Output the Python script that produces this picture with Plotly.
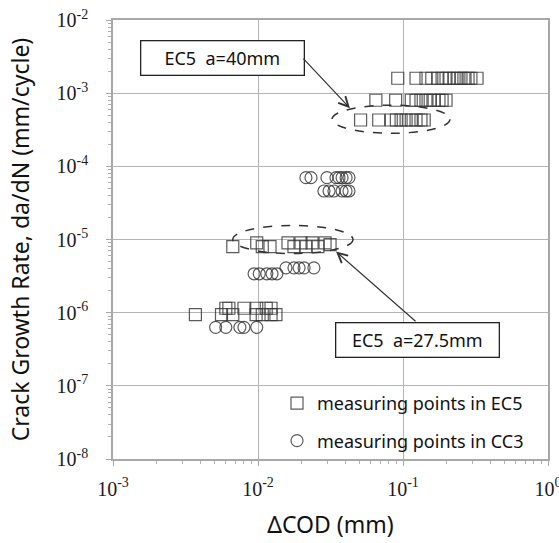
import plotly.graph_objects as go

# Crack growth rate vs. COD range for the EC5 and CC3 specimens
ec5_dcod = [
    # a = 40 mm block (upper rows)
    0.092, 0.123, 0.144, 0.158, 0.174, 0.186, 0.198, 0.208, 0.225, 0.236, 0.251, 0.263, 0.281, 0.294, 0.324,
    0.065, 0.089, 0.114, 0.123, 0.133, 0.144, 0.154, 0.164, 0.177, 0.186, 0.198,
    0.051, 0.068, 0.083, 0.090, 0.097, 0.105, 0.114, 0.123, 0.133, 0.140,
    # a = 27.5 mm block
    0.0067, 0.0098, 0.0107, 0.0121, 0.0161, 0.0177, 0.0198, 0.0214, 0.0236, 0.0259, 0.0290, 0.0314,
    # lowest block
    0.0060, 0.0063, 0.0080, 0.0098, 0.0114, 0.0123,
    0.0037, 0.0056, 0.0067, 0.0097, 0.0107, 0.0123, 0.0133,
]
ec5_rate = (
    [1.6e-3] * 15
    + [8.0e-4] * 11
    + [4.3e-4] * 10
    + [8.0e-6, 9.0e-6, 8.0e-6, 8.0e-6, 9.0e-6, 8.0e-6, 9.0e-6, 8.0e-6, 9.0e-6, 8.0e-6, 9.0e-6, 8.5e-6]
    + [1.15e-6] * 6
    + [9.4e-7] * 7
)

cc3_dcod = [
    0.0214, 0.0232, 0.0299, 0.0345, 0.0362, 0.0380, 0.0405, 0.0424,
    0.0285, 0.0309, 0.0334, 0.0380, 0.0405, 0.0424,
    0.0094, 0.0102, 0.0115, 0.0125, 0.0135,
    0.0156, 0.0177, 0.0192, 0.0208, 0.0243,
    0.0051, 0.0060, 0.0075, 0.0080, 0.0098,
]
cc3_rate = (
    [7.0e-5] * 8
    + [4.6e-5] * 6
    + [3.4e-6] * 5
    + [4.1e-6] * 5
    + [6.3e-7] * 5
)

x_ticks = [1e-3, 1e-2, 1e-1, 1e0]
x_tick_text = ["10<sup>-3</sup>", "10<sup>-2</sup>", "10<sup>-1</sup>", "10<sup>0</sup>"]
y_ticks = [1e-8, 1e-7, 1e-6, 1e-5, 1e-4, 1e-3, 1e-2]
y_tick_text = ["10<sup>-8</sup>", "10<sup>-7</sup>", "10<sup>-6</sup>", "10<sup>-5</sup>",
               "10<sup>-4</sup>", "10<sup>-3</sup>", "10<sup>-2</sup>"]

mark_color = "rgba(50,50,50,0.8)"
sans = "Noto Sans"
serif = "Liberation Serif"

fig = go.Figure()
fig.add_trace(go.Scatter(
    x=ec5_dcod, y=ec5_rate, mode="markers", name="measuring points in EC5",
    legendgroup="ec5",
    marker=dict(symbol="square-open", size=12, color=mark_color, line=dict(width=1.2)),
))
fig.add_trace(go.Scatter(
    x=cc3_dcod, y=cc3_rate, mode="markers", name="measuring points in CC3",
    legendgroup="cc3",
    marker=dict(symbol="circle-open", size=12, color=mark_color, line=dict(width=1.2)),
))

axis_common = dict(
    type="log",
    automargin=False,
    showgrid=True, gridcolor="#b4b4b4", gridwidth=1,
    showline=True, linecolor="#a8a8a8", linewidth=1.5, mirror=True,
    ticks="outside", ticklen=5, tickcolor="#a8a8a8",
    minor=dict(ticks="outside", ticklen=3, tickcolor="#b0b0b0", dtick="D1", showgrid=False),
    tickfont=dict(family=serif, size=20, color="#1a1a1a"),
    ticklabeloverflow="allow",
    zeroline=False,
)

fig.update_xaxes(
    **axis_common,
    range=[-3, 0],
    tickmode="array", tickvals=x_ticks, ticktext=x_tick_text,
    ticklabelstandoff=6,
    title=dict(text="ΔCOD (mm)", font=dict(family=sans, size=23, color="#111"), standoff=18),
)
fig.update_yaxes(
    **axis_common,
    range=[-8, -2],
    tickmode="array", tickvals=y_ticks, ticktext=y_tick_text,
    ticklabelstandoff=14,
    title=dict(text="Crack Growth Rate, da/dN (mm/cycle)", font=dict(family=sans, size=23, color="#111"),
               standoff=21),
)

# dashed ellipses around the two EC5 crack-length groups
fig.add_shape(type="circle", xref="x", yref="y", x0=0.0324, x1=0.211, y0=2.83e-4, y1=6.85e-4,
              line=dict(color="#333", width=1.5, dash="dash"))
fig.add_shape(type="circle", xref="x", yref="y", x0=0.0067, x1=0.0452, y0=6.43e-6, y1=1.556e-5,
              line=dict(color="#333", width=1.5, dash="dash"))

# label boxes (annotation positions on log axes are given as log10 values)
box_style = dict(showarrow=False, bgcolor="white", bordercolor="#222", borderwidth=1.3,
                 font=dict(family=sans, size=18, color="#111"), width=160, height=31, borderpad=1)
fig.add_annotation(x=-2.248, y=-2.52, xref="x", yref="y", text="EC5  a=40mm", **box_style)
fig.add_annotation(x=-0.897, y=-6.37, xref="x", yref="y", text="EC5  a=27.5mm", **box_style)

# arrows from the label boxes to the ellipses
fig.add_annotation(x=-1.366, y=-3.205, xref="x", yref="y", text="", showarrow=True,
                   arrowhead=5, arrowsize=1.6, arrowwidth=1.2, arrowcolor="#333", ax=-48, ay=-51)
fig.add_annotation(x=-1.462, y=-5.164, xref="x", yref="y", text="", showarrow=True,
                   arrowhead=5, arrowsize=1.6, arrowwidth=1.2, arrowcolor="#333", ax=81, ay=71)

fig.update_layout(
    width=559, height=543,
    margin=dict(l=113, r=11, t=20, b=84),
    plot_bgcolor="white", paper_bgcolor="white",
    showlegend=True,
    legend=dict(x=0.377, y=0.1686, xanchor="left", yanchor="top", bgcolor="rgba(0,0,0,0)",
                font=dict(family=sans, size=18, color="#111"),
                traceorder="grouped", tracegroupgap=11, itemwidth=30),
)

fig.write_html("out.html")
